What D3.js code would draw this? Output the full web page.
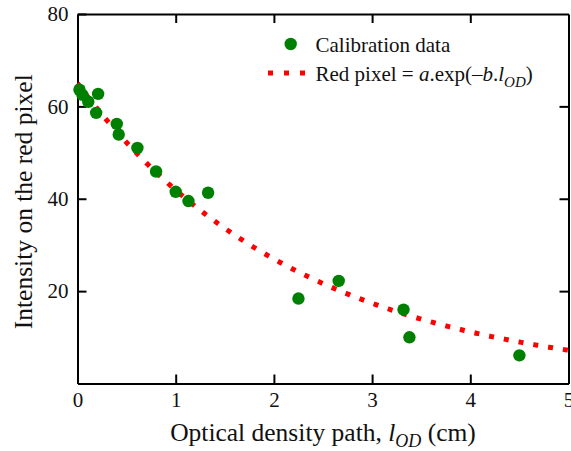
<!DOCTYPE html>
<html>
<head>
<meta charset="utf-8">
<script src="https://cdn.jsdelivr.net/npm/d3@7"></script>
<style>
  html, body { margin: 0; padding: 0; background: #fff; }
  svg { display: block; }
  svg text { font-family: "Liberation Serif", "Times New Roman", Times, serif; }
</style>
</head>
<body>
<svg id="chart" width="571" height="451"></svg>
<script>
// Calibration measurements: optical density path (cm) vs red-pixel intensity
const pathCm = [0.02, 0.05, 0.11, 0.19, 0.21, 0.40, 0.42, 0.61, 0.80, 1.00, 1.13, 1.33, 2.25, 2.66, 3.32, 3.38, 4.50];
const intensity = [63.6, 62.5, 61.0, 58.6, 62.7, 56.2, 53.9, 51.0, 45.9, 41.5, 39.5, 41.3, 18.4, 22.2, 16.0, 10.0, 6.1];

// Exponential fit: Red pixel = a.exp(-b.lOD)
const fitA = 65;
const fitB = 0.44;

const xTicks = [0, 1, 2, 3, 4, 5];
const yTicks = [20, 40, 60, 80];

const serif = "Liberation Serif";
const svg = d3.select("#chart");
const plotLeft = 77.5, plotRight = 568.5, plotTop = 14, plotBottom = 383.5;

const x = d3.scaleLinear().domain([0, 5]).range([plotLeft, plotRight]);
const y = d3.scaleLinear().domain([0, 80]).range([plotBottom, plotTop]);

function styleAxis(g) {
  g.attr("font-family", serif);
  g.select(".domain").attr("stroke", "#000").attr("stroke-width", 2);
  g.selectAll(".tick line").attr("stroke", "#000").attr("stroke-width", 2);
  g.selectAll(".tick text").attr("fill", "#111").attr("font-size", 21).attr("font-family", serif);
}

// bottom axis with labels
svg.append("g").attr("transform", `translate(0,${plotBottom})`)
  .call(d3.axisBottom(x).tickValues(xTicks).tickSizeInner(-9).tickSizeOuter(0).tickPadding(9).tickFormat(d3.format("d")))
  .call(styleAxis);
// top axis, ticks only
svg.append("g").attr("transform", `translate(0,${plotTop})`)
  .call(d3.axisTop(x).tickValues([1, 2, 3, 4]).tickSizeInner(-9).tickSizeOuter(0).tickFormat(""))
  .call(styleAxis);
// left axis with labels
svg.append("g").attr("transform", `translate(${plotLeft},0)`)
  .call(d3.axisLeft(y).tickValues(yTicks).tickSizeInner(-9).tickSizeOuter(0).tickPadding(9).tickFormat(d3.format("d")))
  .call(styleAxis);
// right axis, ticks only
svg.append("g").attr("transform", `translate(${plotRight},0)`)
  .call(d3.axisRight(y).tickValues([20, 40, 60]).tickSizeInner(-9).tickSizeOuter(0).tickFormat(""))
  .call(styleAxis);

// fitted curve
const fitX = d3.range(0, 5.0001, 0.02);
const line = d3.line().x(d => x(d)).y(d => y(fitA * Math.exp(-fitB * d)));
svg.append("path")
  .datum(fitX)
  .attr("d", line)
  .attr("fill", "none")
  .attr("stroke", "#ff0000")
  .attr("stroke-width", 5)
  .attr("stroke-dasharray", "5,10");

// calibration points
svg.append("g").selectAll("circle")
  .data(pathCm.map((d, i) => [d, intensity[i]]))
  .join("circle")
  .attr("cx", d => x(d[0]))
  .attr("cy", d => y(d[1]))
  .attr("r", 6.2)
  .attr("fill", "#008000");

// legend
const legend = svg.append("g").attr("font-family", serif);
legend.append("circle").attr("cx", 290.7).attr("cy", 44).attr("r", 6.2).attr("fill", "#008000");
legend.append("text").attr("x", 315.5).attr("y", 51.5).attr("font-size", 21).attr("fill", "#111")
  .attr("font-family", serif).text("Calibration data");
legend.append("line").attr("x1", 268).attr("x2", 306).attr("y1", 73).attr("y2", 73)
  .attr("stroke", "#ff0000").attr("stroke-width", 5).attr("stroke-dasharray", "5,11");
const fitLabel = legend.append("text").attr("x", 315.5).attr("y", 80.5).attr("font-size", 21)
  .attr("fill", "#111").attr("font-family", serif);
fitLabel.append("tspan").text("Red pixel = ");
fitLabel.append("tspan").attr("font-style", "italic").text("a");
fitLabel.append("tspan").text(".exp(–");
fitLabel.append("tspan").attr("font-style", "italic").text("b");
fitLabel.append("tspan").text(".");
fitLabel.append("tspan").attr("font-style", "italic").text("l");
fitLabel.append("tspan").attr("font-style", "italic").attr("font-size", 15).attr("dy", 6).text("OD");
fitLabel.append("tspan").attr("dy", -6).text(")");

// axis titles
const xTitle = svg.append("text").attr("x", (plotLeft + plotRight) / 2).attr("y", 441)
  .attr("text-anchor", "middle").attr("font-size", 25.5).attr("fill", "#111").attr("font-family", serif);
xTitle.append("tspan").text("Optical density path, ");
xTitle.append("tspan").attr("font-style", "italic").text("l");
xTitle.append("tspan").attr("font-style", "italic").attr("font-size", 18).attr("dy", 6).text("OD");
xTitle.append("tspan").attr("dy", -6).text(" (cm)");

svg.append("text")
  .attr("transform", `translate(32,${(plotTop + plotBottom) / 2 + 3}) rotate(-90)`)
  .attr("text-anchor", "middle").attr("font-size", 25.5).attr("fill", "#111").attr("font-family", serif)
  .text("Intensity on the red pixel");
</script>
</body>
</html>
